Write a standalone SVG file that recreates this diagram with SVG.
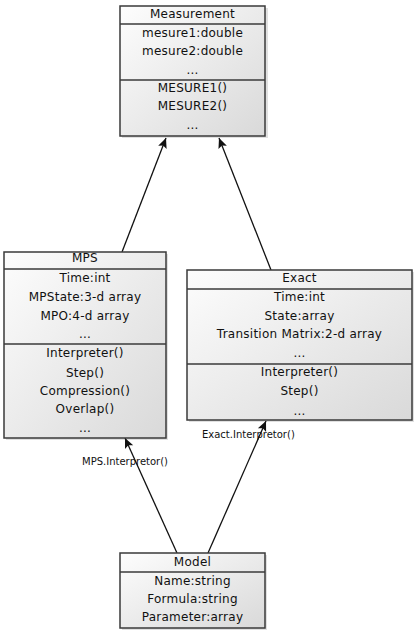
<svg xmlns="http://www.w3.org/2000/svg" width="416" height="635" viewBox="0 0 416 635">
<defs>
<linearGradient id="g" x1="0" y1="0" x2="1" y2="1">
<stop offset="0" stop-color="#fdfdfd"/>
<stop offset="1" stop-color="#d9d9d9"/>
</linearGradient>
<marker id="arr" markerWidth="12" markerHeight="12" viewBox="0 0 12 12" refX="11" refY="6" orient="auto" markerUnits="userSpaceOnUse">
<path d="M1,1.5 L11,6 L1,10.5 L3,6 Z" fill="#111"/>
</marker>
</defs>
<style>
.box{fill:url(#g);stroke:#3a3a3a;stroke-width:1.5}
.shadow{fill:#000;opacity:0.12}
.sep{stroke:#3a3a3a;stroke-width:1.5}
text{font-family:"DejaVu Sans",Verdana,sans-serif;font-size:12px;fill:#111;text-anchor:middle;letter-spacing:0.25px}
.lbl{font-size:10px;text-anchor:start;letter-spacing:0}
.conn{stroke:#111;stroke-width:1.3;fill:none;marker-end:url(#arr)}
</style>
<g id="connectors">
<line class="conn" x1="122" y1="252" x2="166" y2="138"/>
<line class="conn" x1="271" y1="270" x2="219" y2="138"/>
<line class="conn" x1="177" y1="553" x2="125" y2="438"/>
<line class="conn" x1="208" y1="553" x2="266" y2="421"/>
<text class="lbl" x="82" y="465">MPS.Interpretor()</text>
<text class="lbl" x="202" y="438">Exact.Interpretor()</text>
</g>
<g id="measurement">
<rect class="shadow" x="122" y="8" width="146" height="130"/>
<rect class="box" x="120" y="6" width="145" height="130"/>
<line class="sep" x1="120" y1="24" x2="265" y2="24"/>
<line class="sep" x1="120" y1="80" x2="265" y2="80"/>
<text x="192.5" y="18">Measurement</text>
<text x="192.5" y="37">mesure1:double</text>
<text x="192.5" y="55">mesure2:double</text>
<text x="192.5" y="74">...</text>
<text x="192.5" y="92">MESURE1()</text>
<text x="192.5" y="110">MESURE2()</text>
<text x="192.5" y="129">...</text>
</g>
<g id="mps">
<rect class="shadow" x="6" y="254" width="162" height="186"/>
<rect class="box" x="4" y="252" width="162" height="186"/>
<line class="sep" x1="4" y1="269" x2="166" y2="269"/>
<line class="sep" x1="4" y1="344" x2="166" y2="344"/>
<text x="85" y="262">MPS</text>
<text x="85" y="282">Time:int</text>
<text x="85" y="301">MPState:3-d array</text>
<text x="85" y="320">MPO:4-d array</text>
<text x="85" y="338">...</text>
<text x="85" y="357">Interpreter()</text>
<text x="85" y="377">Step()</text>
<text x="85" y="395">Compression()</text>
<text x="85" y="413">Overlap()</text>
<text x="85" y="432">...</text>
</g>
<g id="exact">
<rect class="shadow" x="189" y="272" width="225" height="150"/>
<rect class="box" x="187" y="270" width="225" height="150"/>
<line class="sep" x1="187" y1="289" x2="412" y2="289"/>
<line class="sep" x1="187" y1="364" x2="412" y2="364"/>
<text x="299.5" y="282">Exact</text>
<text x="299.5" y="301">Time:int</text>
<text x="299.5" y="320">State:array</text>
<text x="299.5" y="338">Transition Matrix:2-d array</text>
<text x="299.5" y="357">...</text>
<text x="299.5" y="376">Interpreter()</text>
<text x="299.5" y="395">Step()</text>
<text x="299.5" y="415">...</text>
</g>
<g id="model">
<rect class="shadow" x="122" y="555" width="145" height="75"/>
<rect class="box" x="120" y="553" width="145" height="75"/>
<line class="sep" x1="120" y1="572" x2="265" y2="572"/>
<text x="192.5" y="566">Model</text>
<text x="192.5" y="585">Name:string</text>
<text x="192.5" y="603">Formula:string</text>
<text x="192.5" y="621">Parameter:array</text>
</g>
</svg>
